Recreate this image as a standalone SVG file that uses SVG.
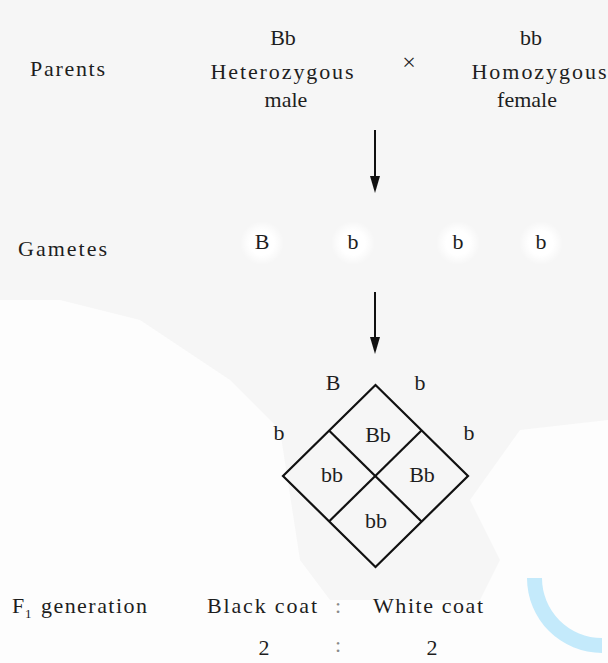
<svg xmlns="http://www.w3.org/2000/svg" width="608" height="663" viewBox="0 0 608 663">
<defs>
<marker id="ah" markerUnits="userSpaceOnUse" markerWidth="17" markerHeight="10" refX="9" refY="5" orient="auto">
<path d="M0,0 L17,5 L0,10 Z" fill="#111"/>
</marker>
<radialGradient id="glow">
<stop offset="0.55" stop-color="#fff" stop-opacity="1"/>
<stop offset="1" stop-color="#fff" stop-opacity="0"/>
</radialGradient>
</defs>
<rect width="608" height="663" fill="#f6f6f6"/>
<path d="M0,300 L60,300 L140,320 L230,380 L280,430 L300,560 L330,600 L480,600 L500,560 L470,500 L520,430 L608,420 L608,663 L0,663 Z" fill="#fdfdfd"/>
<path d="M527,578 A75,75 0 0 0 602,653 L602,638 A60,60 0 0 1 542,578 Z" fill="#c4eafb"/>

<g id="parents-label"><text x="30" y="76" font-family="Liberation Serif, serif" font-size="22" fill="#1e1e1e" textLength="75" lengthAdjust="spacing">Parents</text></g>
<g id="male-parent">
<text x="283" y="45" text-anchor="middle" font-family="Liberation Serif, serif" font-size="22" fill="#1e1e1e">Bb</text>
<text x="282" y="79" text-anchor="middle" font-family="Liberation Serif, serif" font-size="22" fill="#1e1e1e" textLength="143" lengthAdjust="spacing">Heterozygous</text>
<text x="286" y="107" text-anchor="middle" font-family="Liberation Serif, serif" font-size="22" fill="#1e1e1e">male</text>
</g>
<g id="cross"><text x="409" y="70" text-anchor="middle" font-family="Liberation Serif, serif" font-size="24" fill="#1e1e1e">×</text></g>
<g id="female-parent">
<text x="531" y="45" text-anchor="middle" font-family="Liberation Serif, serif" font-size="22" fill="#1e1e1e">bb</text>
<text x="539" y="79" text-anchor="middle" font-family="Liberation Serif, serif" font-size="22" fill="#1e1e1e" textLength="135" lengthAdjust="spacing">Homozygous</text>
<text x="527" y="107" text-anchor="middle" font-family="Liberation Serif, serif" font-size="22" fill="#1e1e1e">female</text>
</g>

<g id="gametes-label"><text x="18" y="256" font-family="Liberation Serif, serif" font-size="22" fill="#1e1e1e" textLength="89" lengthAdjust="spacing">Gametes</text></g>
<g id="gamete-B"><circle cx="262" cy="243" r="22" fill="url(#glow)"/><text x="262" y="249" text-anchor="middle" font-family="Liberation Serif, serif" font-size="22" fill="#1e1e1e">B</text></g>
<g id="gamete-b1"><circle cx="353" cy="243" r="22" fill="url(#glow)"/><text x="353" y="249" text-anchor="middle" font-family="Liberation Serif, serif" font-size="22" fill="#1e1e1e">b</text></g>
<g id="gamete-b2"><circle cx="458" cy="243" r="22" fill="url(#glow)"/><text x="458" y="249" text-anchor="middle" font-family="Liberation Serif, serif" font-size="22" fill="#1e1e1e">b</text></g>
<g id="gamete-b3"><circle cx="541" cy="243" r="22" fill="url(#glow)"/><text x="541" y="249" text-anchor="middle" font-family="Liberation Serif, serif" font-size="22" fill="#1e1e1e">b</text></g>

<g id="connectors" fill="none" stroke="#111" stroke-width="2">
<path d="M375,130 L375,185" marker-end="url(#ah)"/>
<path d="M375,292 L375,346" marker-end="url(#ah)"/>
</g>

<g id="punnett">
<g fill="none" stroke="#111" stroke-width="2.2">
<polygon points="375.5,385 468,476 375.5,567 283,476"/>
<line x1="329" y1="430.5" x2="421.5" y2="521.5"/>
<line x1="421.5" y1="430.5" x2="329" y2="521.5"/>
</g>
<text x="333" y="390" text-anchor="middle" font-family="Liberation Serif, serif" font-size="22" fill="#1e1e1e">B</text>
<text x="420" y="390" text-anchor="middle" font-family="Liberation Serif, serif" font-size="22" fill="#1e1e1e">b</text>
<text x="279" y="440" text-anchor="middle" font-family="Liberation Serif, serif" font-size="22" fill="#1e1e1e">b</text>
<text x="469" y="440" text-anchor="middle" font-family="Liberation Serif, serif" font-size="22" fill="#1e1e1e">b</text>
<text x="378" y="442" text-anchor="middle" font-family="Liberation Serif, serif" font-size="22" fill="#1e1e1e">Bb</text>
<text x="332" y="482" text-anchor="middle" font-family="Liberation Serif, serif" font-size="22" fill="#1e1e1e">bb</text>
<text x="422" y="482" text-anchor="middle" font-family="Liberation Serif, serif" font-size="22" fill="#1e1e1e">Bb</text>
<text x="376" y="528" text-anchor="middle" font-family="Liberation Serif, serif" font-size="22" fill="#1e1e1e">bb</text>
</g>

<g id="f1">
<text x="12" y="613" font-family="Liberation Serif, serif" font-size="22" fill="#1e1e1e">F<tspan x="25" y="618" font-size="13">1</tspan><tspan x="34" y="613" textLength="113" lengthAdjust="spacing"> generation</tspan></text>
<text x="262" y="613" text-anchor="middle" font-family="Liberation Serif, serif" font-size="22" fill="#1e1e1e" textLength="110" lengthAdjust="spacing">Black coat</text>
<text x="338" y="613" text-anchor="middle" font-family="Liberation Serif, serif" font-size="22" fill="#8a8a8a">:</text>
<text x="428" y="613" text-anchor="middle" font-family="Liberation Serif, serif" font-size="22" fill="#1e1e1e" textLength="110" lengthAdjust="spacing">White coat</text>
<text x="264" y="655" text-anchor="middle" font-family="Liberation Serif, serif" font-size="22" fill="#1e1e1e">2</text>
<text x="338" y="652" text-anchor="middle" font-family="Liberation Serif, serif" font-size="22" fill="#8a8a8a">:</text>
<text x="432" y="655" text-anchor="middle" font-family="Liberation Serif, serif" font-size="22" fill="#1e1e1e">2</text>
</g>
</svg>
